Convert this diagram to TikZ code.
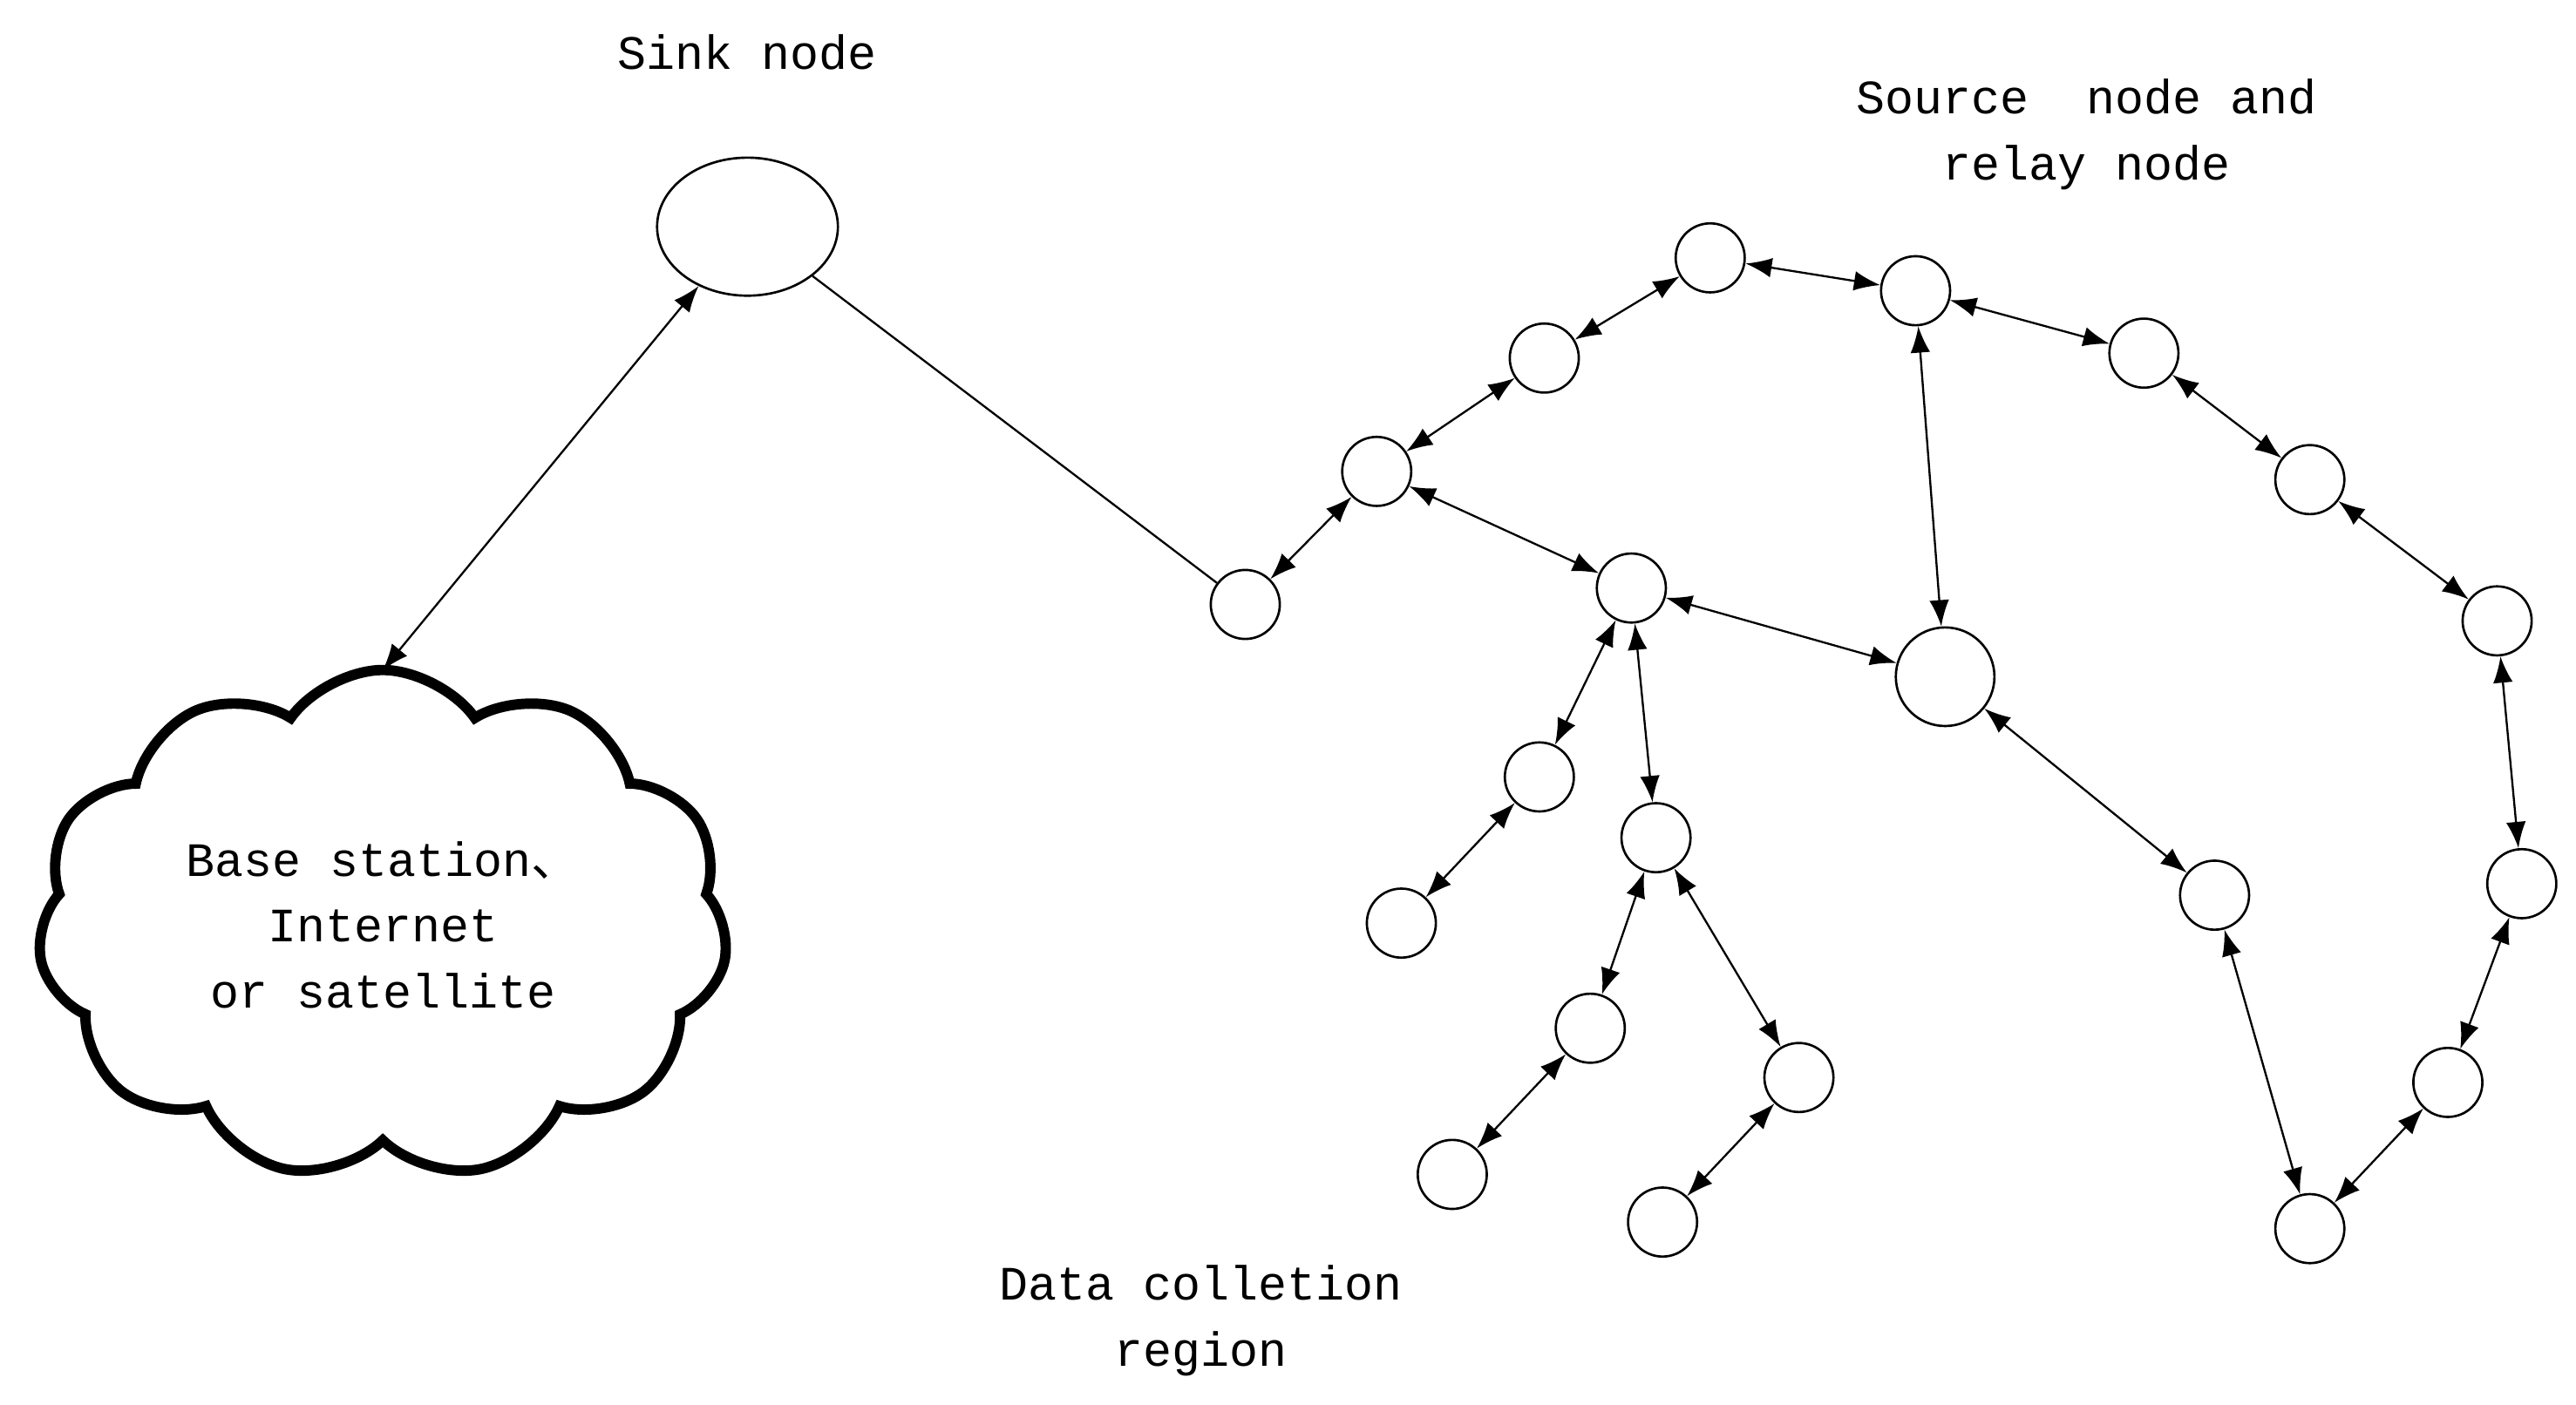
\documentclass[tikz,border=0pt]{standalone}
\usepackage{fontspec}
\setmainfont{Liberation Mono}
\newfontfamily\cjk{Noto Sans CJK SC}
\usetikzlibrary{shapes.symbols,shapes.geometric,arrows.meta}
\begin{document}
\begin{tikzpicture}[x=0.01cm,y=-0.01cm,
  nd/.style={draw,circle,minimum size=0.42cm,inner sep=0pt,line width=0.4pt},
  lbl/.style={font=\fontsize{8.3}{11.4}\selectfont,align=center},
  ar/.style={{Latex[length=1.6mm,width=1.2mm]}-{Latex[length=1.6mm,width=1.2mm]},line width=0.35pt}]
\useasboundingbox (0,0) rectangle (1568,855);
\node[draw,ellipse,minimum width=1.1cm,minimum height=0.84cm,line width=0.4pt] (sink) at (455,138) {};
\node[draw,cloud,cloud puffs=11,cloud puff arc=110,aspect=1.4,minimum width=4.2cm,minimum height=3.1cm,line width=1.8pt,lbl] (cloud) at (233,563) {Base station{\cjk 、}\\Internet\\or satellite};
\foreach \n/\x/\y in {1/758/368,2/838/287,3/940/218,4/1041/157,5/1166/177,6/1305/215,7/1406/292,8/1520/378,9/1535/538,10/1490/659,11/1406/748,12/1348/545,14/993/358,15/937/473,16/853/562,17/1008/510,18/968/626,19/884/715,20/1095/656,21/1012/744}
  \node[nd] (n\n) at (\x,\y) {};
\node[nd,minimum size=0.6cm] (n13) at (1184,412) {};
\draw[line width=0.35pt] (sink) -- (n1);
\draw[ar] (sink) -- (233,408) coordinate (ct);
\foreach \a/\b in {1/2,2/3,3/4,4/5,5/6,6/7,7/8,8/9,9/10,10/11,11/12,12/13,13/14,14/2,5/13,14/15,15/16,14/17,17/18,18/19,17/20,20/21}
  \draw[ar] (n\a) -- (n\b);
\node[lbl] (t1) at (455,32) {Sink node};
\node[lbl] (t2) at (1270,82) {Source\ \ node and\\relay node};
\node[lbl] (t3) at (731,804) {Data colletion\\region};
\end{tikzpicture}
\end{document}
